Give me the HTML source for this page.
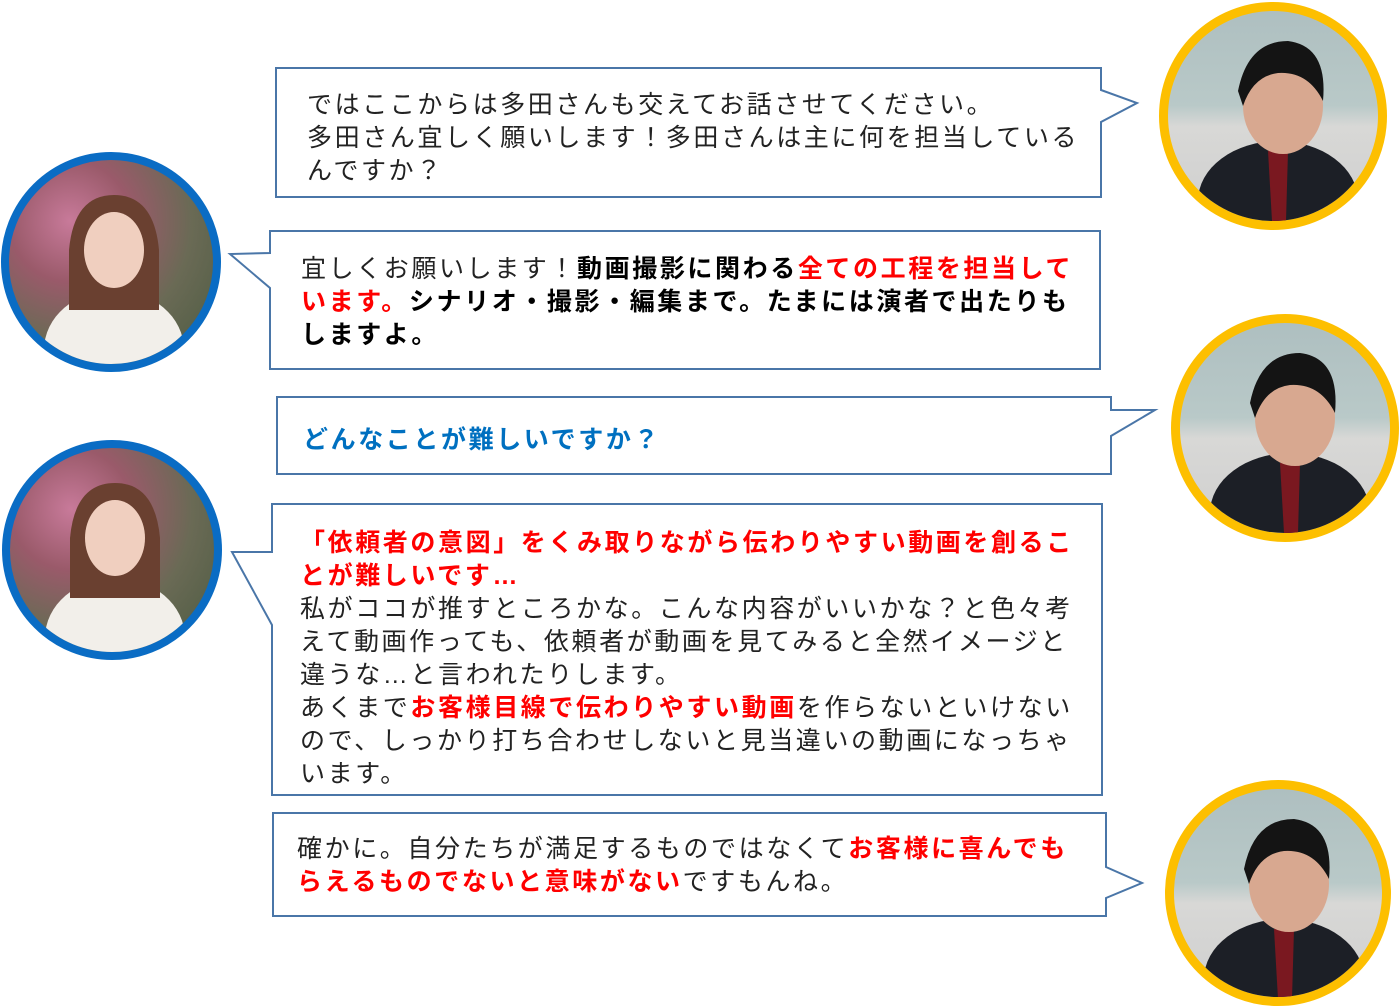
<!DOCTYPE html>
<html><head><meta charset="utf-8"><style>
body{margin:0;width:1400px;height:1005px;background:#fff;position:relative;overflow:hidden;font-family:"Liberation Sans","Noto Sans CJK JP",sans-serif;}
.t{position:absolute;font-size:25px;letter-spacing:2.6px;line-height:33px;color:#222;white-space:nowrap;}
b{font-weight:bold;color:#000}
.r{color:#f00;font-weight:bold}
.bl{color:#0070c0;font-weight:bold}
.c{position:absolute;border-radius:50%;box-sizing:border-box;overflow:hidden}
.y{border:9px solid #fdbf00;background:linear-gradient(180deg,#aebfc0 0%,#b9c9c8 45%,#d8d8d6 55%,#cfcfcf 100%)}
.w{border:8px solid #0a6cc4;background:radial-gradient(circle at 30% 30%,#c87a9a 0%,#9a5a6a 30%,#6a6a55 60%,#4a5a40 100%)}
</style></head><body>
<svg width="1400" height="1005" style="position:absolute;left:0;top:0" fill="#fff" stroke="#4a76a8" stroke-width="2">
<path d="M276 68H1101V90L1137 103L1101 122V197H276Z"/>
<path d="M270 231H1100V369H270V288L230 254L270 253Z"/>
<path d="M277 397H1111V410L1155 410L1111 436V474H277Z"/>
<path d="M272 504H1102V795H272V625L232 552L272 552Z"/>
<path d="M273 813H1106V867L1142 883L1106 898V916H273Z"/>
</svg>
<div class="t" style="left:307px;top:89px">ではここからは多田さんも交えてお話させてください。<br>多田さん宜しく願いします！多田さんは主に何を担当している<br>んですか？</div>
<div class="t" style="left:301px;top:253px">宜しくお願いします！<b>動画撮影に関わる</b><span class="r">全ての工程を担当して</span><br><span class="r">います。</span><b>シナリオ・撮影・編集まで。たまには演者で出たりも</b><br><b>しますよ。</b></div>
<div class="t" style="left:303px;top:424px"><span class="bl">どんなことが難しいですか？</span></div>
<div class="t" style="left:300px;top:527px"><span class="r">「依頼者の意図」をくみ取りながら伝わりやすい動画を創るこ<br>とが難しいです…</span><br>私がココが推すところかな。こんな内容がいいかな？と色々考<br>えて動画作っても、依頼者が動画を見てみると全然イメージと<br>違うな…と言われたりします。<br>あくまで<span class="r">お客様目線で伝わりやすい動画</span>を作らないといけない<br>ので、しっかり打ち合わせしないと見当違いの動画になっちゃ<br>います。</div>
<div class="t" style="left:297px;top:833px">確かに。自分たちが満足するものではなくて<span class="r">お客様に喜んでも</span><br><span class="r">らえるものでないと意味がない</span>ですもんね。</div>
<div class="c y" style="left:1159px;top:2px;width:228px;height:228px"><svg width="210" height="210"><ellipse cx="110" cy="190" rx="80" ry="60" fill="#1c1f26"/><path d="M100 140L120 140L118 210L104 210Z" fill="#7a1820"/><ellipse cx="115" cy="95" rx="40" ry="48" fill="#d8a890"/><path d="M70 80Q80 30 120 30Q160 35 155 90Q140 60 110 62Q85 65 75 95Z" fill="#141414"/></svg></div>
<div class="c y" style="left:1171px;top:314px;width:228px;height:228px"><svg width="210" height="210"><ellipse cx="110" cy="190" rx="80" ry="60" fill="#1c1f26"/><path d="M100 140L120 140L118 210L104 210Z" fill="#7a1820"/><ellipse cx="115" cy="95" rx="40" ry="48" fill="#d8a890"/><path d="M70 80Q80 30 120 30Q160 35 155 90Q140 60 110 62Q85 65 75 95Z" fill="#141414"/></svg></div>
<div class="c y" style="left:1165px;top:780px;width:226px;height:226px"><svg width="210" height="210"><ellipse cx="110" cy="190" rx="80" ry="60" fill="#1c1f26"/><path d="M100 140L120 140L118 210L104 210Z" fill="#7a1820"/><ellipse cx="115" cy="95" rx="40" ry="48" fill="#d8a890"/><path d="M70 80Q80 30 120 30Q160 35 155 90Q140 60 110 62Q85 65 75 95Z" fill="#141414"/></svg></div>
<div class="c w" style="left:1px;top:152px;width:220px;height:220px"><svg width="204" height="204"><ellipse cx="105" cy="190" rx="70" ry="60" fill="#f2efea"/><path d="M60 90Q65 35 105 35Q145 35 150 90L150 150L60 150Z" fill="#6a4030"/><ellipse cx="105" cy="90" rx="30" ry="38" fill="#f0cfbf"/></svg></div>
<div class="c w" style="left:2px;top:440px;width:220px;height:220px"><svg width="204" height="204"><ellipse cx="105" cy="190" rx="70" ry="60" fill="#f2efea"/><path d="M60 90Q65 35 105 35Q145 35 150 90L150 150L60 150Z" fill="#6a4030"/><ellipse cx="105" cy="90" rx="30" ry="38" fill="#f0cfbf"/></svg></div>
</body></html>
